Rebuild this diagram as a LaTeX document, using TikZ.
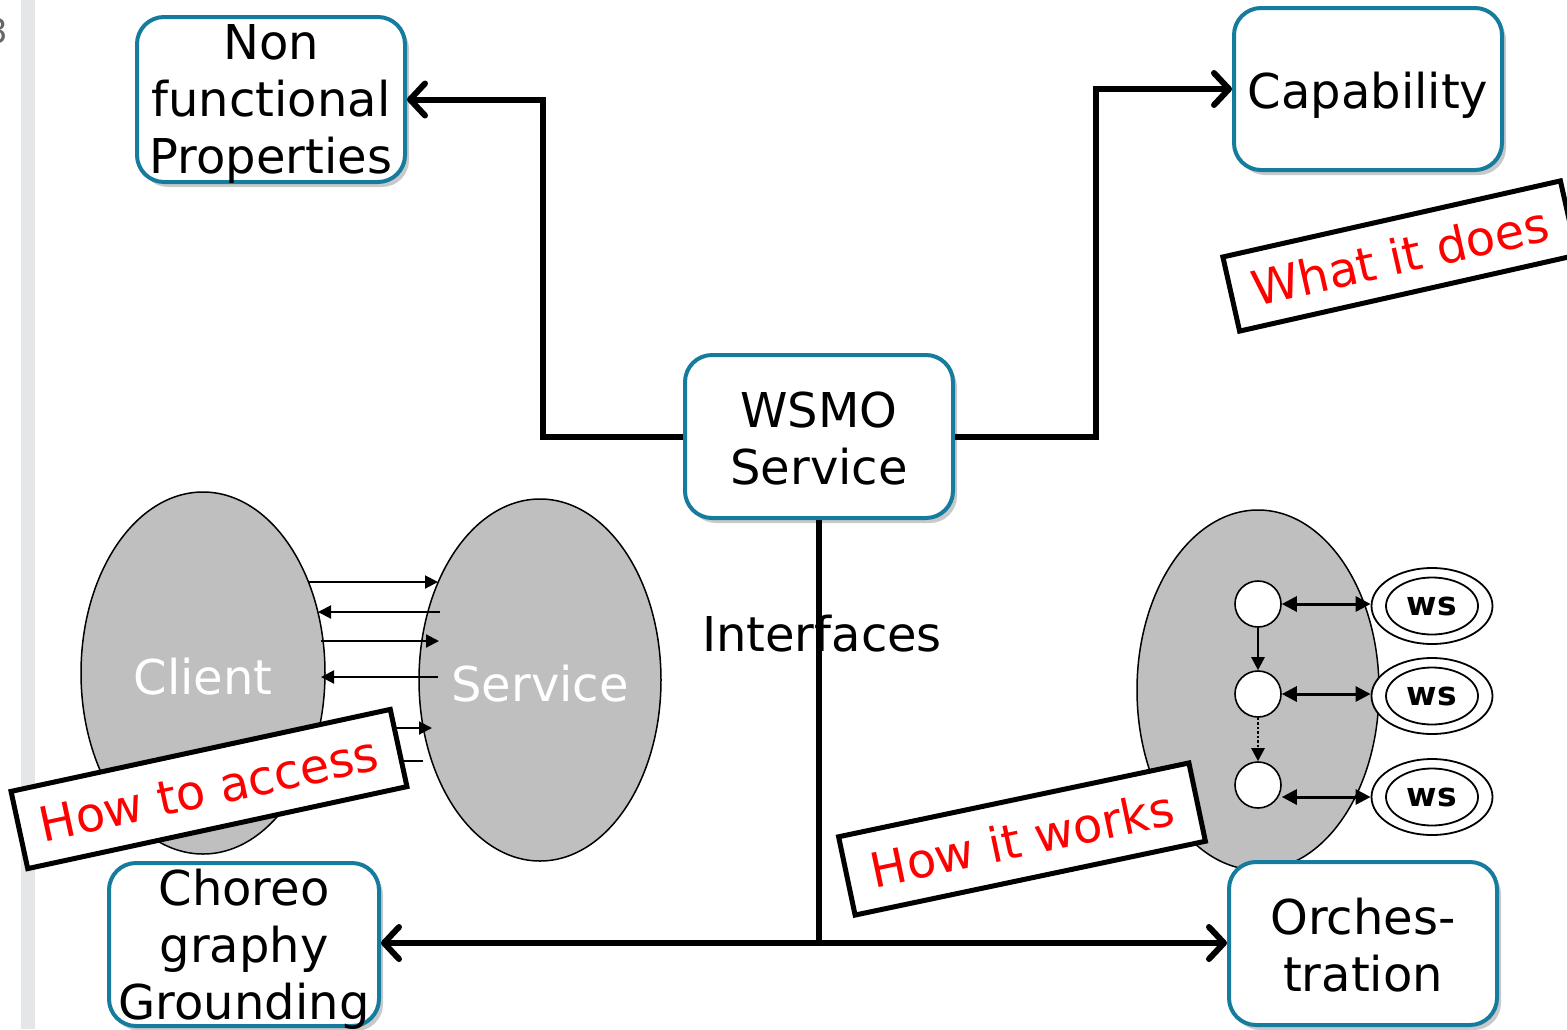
\documentclass[tikz,border=0pt]{standalone}
\usepackage{fontspec}
\setmainfont{DejaVu Sans}
\usetikzlibrary{arrows.meta,shapes.geometric,shadows}

\definecolor{boxline}{RGB}{22,124,158}
\definecolor{blobfill}{RGB}{191,191,191}
\definecolor{sidebar}{RGB}{229,230,232}

\tikzset{
  bigfont/.style={font=\fontsize{48}{57}\selectfont},
  box/.style={rectangle, rounded corners=27pt, draw=boxline, line width=4pt,
    fill=white, inner sep=0pt,
    drop shadow={shadow xshift=4pt, shadow yshift=-5pt, opacity=0.3, fill=black!70}},
  boxtext/.style={bigfont, align=center, inner sep=0pt},
  conn/.style={line width=6pt, -{Straight Barb[length=15pt, width=32pt, round]}},
  trunk/.style={line width=6pt, line cap=butt},
  blob/.style={ellipse, fill=blobfill, draw=black, line width=1.5pt, inner sep=0pt,
    text=white, bigfont},
  msg/.style={line width=2pt, -{Triangle[length=13pt, width=13pt]}},
  tag/.style={draw=black, line width=5pt, fill=white, text=red, bigfont,
    inner sep=0pt, miter limit=10},
  state/.style={circle, draw=black, line width=1.6pt, fill=white,
    minimum size=46pt, inner sep=0pt},
  wsouter/.style={ellipse, draw=black, line width=1.8pt, fill=white,
    minimum width=121pt, minimum height=76pt, inner sep=0pt},
  wsinner/.style={ellipse, draw=black, line width=1.8pt,
    minimum width=92pt, minimum height=57pt, inner sep=0pt,
    font=\fontsize{33}{36}\selectfont\bfseries},
  link/.style={line width=3pt, {Triangle[length=15pt, width=15pt]}-{Triangle[length=15pt, width=15pt]}},
  step-arrow/.style={line width=2.5pt, -{Triangle[length=13pt, width=13pt]}}
}

\begin{document}
\begin{tikzpicture}[x=1pt, y=-1pt]
\useasboundingbox (0,0) rectangle (1567,1029);

% slide margin strip and page number
\fill[sidebar] (21,0) rectangle (35,1029);
\node[text=black!60, font=\fontsize{34}{40}\selectfont, inner sep=0pt] (pageno) at (-3,31) {3};

% client / service interaction
\node[blob, minimum width=244pt, minimum height=362pt] (client) at (203,673) {};
\node[blob, minimum width=242pt, minimum height=362pt] (service) at (540,680) {};
\node[text=white, bigfont, inner sep=0pt] (client-name) at (203,677) {Client};
\node[text=white, bigfont, inner sep=0pt] (service-name) at (540,684) {Service};

\coordinate (m1a) at (309,582); \coordinate (m1b) at (438,582);
\coordinate (m2a) at (440,612); \coordinate (m2b) at (318,612);
\coordinate (m3a) at (321,641); \coordinate (m3b) at (439,641);
\coordinate (m4a) at (438,677); \coordinate (m4b) at (321,677);
\coordinate (m5a) at (330,728); \coordinate (m5b) at (432,728);
\coordinate (m6a) at (423,761); \coordinate (m6b) at (330,761);
\draw[msg] (m1a) -- (m1b);
\draw[msg] (m2a) -- (m2b);
\draw[msg] (m3a) -- (m3b);
\draw[msg] (m4a) -- (m4b);
\draw[msg] (m5a) -- (m5b);
\draw[msg] (m6a) -- (m6b);

\node[tag, rotate=12.2, minimum width=388pt, minimum height=79pt] (access) at (209,789) {How to access};

% orchestration of web services
\node[blob, minimum width=242pt, minimum height=360pt] (orch-blob) at (1258,690) {};
\node[state] (c1) at (1258,604) {};
\node[state] (c2) at (1258,694) {};
\node[state] (c3) at (1258,785) {};
\node[wsouter] (ws1) at (1432,606) {};
\node[wsouter] (ws2) at (1432,696) {};
\node[wsouter] (ws3) at (1432,797) {};
\node[wsinner] (ws1i) at (ws1) {ws};
\node[wsinner] (ws2i) at (ws2) {ws};
\node[wsinner] (ws3i) at (ws3) {ws};
\draw[step-arrow] (c1) -- (c2);
\draw[step-arrow, dotted] (c2) -- (c3);
\draw[link] (c1.east) -- (c1.east -| ws1.west);
\draw[link] (c2.east) -- (c2.east -| ws2.west);
\draw[link] (ws3.west -| c3.east) -- (ws3.west);

\node[tag, rotate=11.9, minimum width=358pt, minimum height=80pt] (works) at (1022,839) {How it works};
\node[tag, rotate=12.7, minimum width=346pt, minimum height=76pt] (does) at (1400,256) {What it does};

% interface label, crossed by the trunk line
\node[bigfont, inner sep=0pt] (interfaces) at (822,634) {Interfaces};

% the service description and its parts
\node[box, minimum width=268pt, minimum height=163pt] (wsmo) at (819,436.5) {};
\node[boxtext] (wsmo-text) at (819,439) {WSMO\\Service};

\node[box, minimum width=268pt, minimum height=165pt] (nfp) at (271,99.5) {};
\node[boxtext] (nfp-text) at (271,104) {Non\\functional\\Properties};

\node[box, minimum width=268pt, minimum height=162pt] (cap) at (1368,89) {};
\node[boxtext] (cap-text) at (1368,95) {Capability};

\node[box, minimum width=270pt, minimum height=163pt] (chor) at (244,944.5) {};
\node[boxtext] (chor-text) at (244,949) {Choreo\\graphy\\Grounding};

\node[box, minimum width=268pt, minimum height=163pt] (orch) at (1363,943.5) {};
\node[boxtext] (orch-text) at (1363,945) {Orches-\\tration};

% connectors
\draw[conn] (wsmo.west) -- ++(-140,0) |- (nfp.east);
\draw[conn] (wsmo.east) -- ++(141,0) |- (cap.west);
\coordinate (fork) at (819,943);
\draw[trunk] (wsmo.south) -- (fork);
\draw[conn] (fork) -- (chor.east |- fork);
\draw[conn] (fork) -- (orch.west |- fork);
\end{tikzpicture}
\end{document}
